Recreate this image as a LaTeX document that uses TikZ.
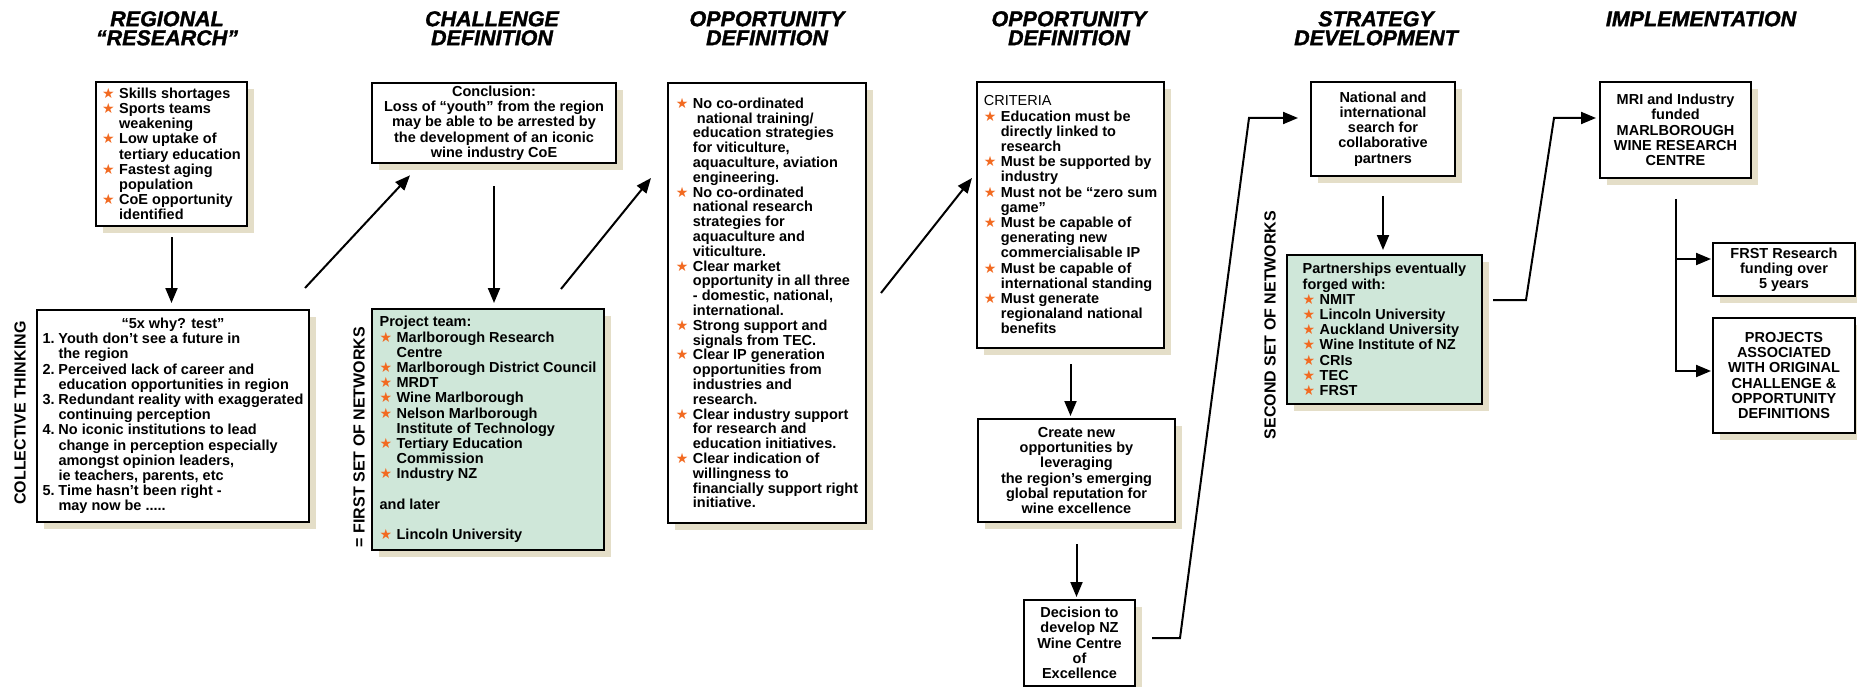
\documentclass[tikz,border=0pt]{standalone}
\usepackage{fontspec}
\setmainfont{Liberation Sans}
\newfontfamily\starfont{DejaVu Sans}
\newfontfamily\headfont{Liberation Sans Bold Italic}[FakeBold=1.4]
\usetikzlibrary{arrows.meta,shadows}

\definecolor{starorange}{HTML}{F26A21}
\definecolor{teamgreen}{HTML}{CFE7D9}
\definecolor{shadowbeige}{HTML}{E4DEC8}

\newcommand{\st}{\makebox[17pt][l]{\textcolor{starorange}{\starfont\fontsize{14}{14}\selectfont ★}}}
\newcommand{\ind}{\hspace*{17pt}}
\newcommand{\nm}[1]{\makebox[16pt][l]{#1}}

\tikzset{
	heading/.style={font=\headfont\fontsize{21.5}{19}\selectfont, align=center, inner sep=0pt, anchor=north},
	vlabel/.style={font=\fontsize{16}{16}\selectfont\bfseries, rotate=90, inner sep=0pt},
	box/.style={draw, line width=2pt, fill=white, anchor=north west, inner sep=3pt,
		font=\fontsize{14.5}{15.2}\selectfont\bfseries,
		general shadow={shadow xshift=7pt, shadow yshift=-7pt, fill=shadowbeige, draw=none}},
	greenbox/.style={box, fill=teamgreen},
	arr/.style={line width=2pt, -{Triangle[length=15pt,width=12pt]}}
}

\begin{document}
\begin{tikzpicture}[x=1pt,y=-1pt]
	\useasboundingbox (0,0) rectangle (1857,687);

	%%%%% headings %%%%%
	\node[heading] (h1) at (167,11) {REGIONAL\\“RESEARCH”};
	\node[heading] (h2) at (492,11) {CHALLENGE\\DEFINITION};
	\node[heading] (h3) at (767,11) {OPPORTUNITY\\DEFINITION};
	\node[heading] (h4) at (1069,11) {OPPORTUNITY\\DEFINITION};
	\node[heading] (h5) at (1376,11) {STRATEGY\\DEVELOPMENT};
	\node[heading] (h6) at (1701,11) {IMPLEMENTATION};

	\node[vlabel] (collective) at (20,413) {COLLECTIVE THINKING};
	\node[vlabel] (firstset) at (359,437) {= FIRST SET OF NETWORKS};
	\node[vlabel] (secondset) at (1270,325) {SECOND SET OF NETWORKS};

	%%%%% boxes %%%%%
	\node[box, align=left, minimum width=151pt, minimum height=144pt] (skills) at (95,81) {
		\st Skills shortages\\
		\st Sports teams\\
		\ind weakening\\
		\st Low uptake of\\
		\ind tertiary education\\
		\st Fastest aging\\
		\ind population\\
		\st CoE opportunity\\
		\ind identified};

	\node[box, align=center, minimum width=244pt, minimum height=80pt] (concl) at (371,82) {
		Conclusion:\\
		Loss of “youth” from the region\\
		may be able to be arrested by\\
		the development of an iconic\\
		wine industry CoE};

	\node[box, align=left, minimum width=272pt, minimum height=212pt] (why) at (36,309) {
		\makebox[261pt]{“5x why? test”}\\
		\nm{1.}Youth don’t see a future in\\
		\nm{}the region\\
		\nm{2.}Perceived lack of career and\\
		\nm{}education opportunities in region\\
		\nm{3.}Redundant reality with exaggerated\\
		\nm{}continuing perception\\
		\nm{4.}No iconic institutions to lead\\
		\nm{}change in perception especially\\
		\nm{}amongst opinion leaders,\\
		\nm{}ie teachers, parents, etc\\
		\nm{5.}Time hasn’t been right -\\
		\nm{}may now be .....};

	\node[greenbox, align=left, minimum width=232pt, minimum height=241pt] (team) at (371,308) {
		Project team:\\
		\st Marlborough Research\\
		\ind Centre\\
		\st Marlborough District Council\\
		\st MRDT\\
		\st Wine Marlborough\\
		\st Nelson Marlborough\\
		\ind Institute of Technology\\
		\st Tertiary Education\\
		\ind Commission\\
		\st Industry NZ\\
		\mbox{}\\
		and later\\
		\mbox{}\\
		\st Lincoln University};

	\node[box, align=left, minimum width=198pt, minimum height=440pt,
		font=\fontsize{14.5}{14.8}\selectfont\bfseries] (opp) at (667,82) {
		\st No co-ordinated\\
		\ind\ national training/\\
		\ind education strategies\\
		\ind for viticulture,\\
		\ind aquaculture, aviation\\
		\ind engineering.\\
		\st No co-ordinated\\
		\ind national research\\
		\ind strategies for\\
		\ind aquaculture and\\
		\ind viticulture.\\
		\st Clear market\\
		\ind opportunity in all three\\
		\ind - domestic, national,\\
		\ind international.\\
		\st Strong support and\\
		\ind signals from TEC.\\
		\st Clear IP generation\\
		\ind opportunities from\\
		\ind industries and\\
		\ind research.\\
		\st Clear industry support\\
		\ind for research and\\
		\ind education initiatives.\\
		\st Clear indication of\\
		\ind willingness to\\
		\ind financially support right\\
		\ind initiative.};

	\node[box, align=left, minimum width=187pt, minimum height=266pt] (crit) at (976,81) {
		{\mdseries CRITERIA}\\
		\st Education must be\\
		\ind directly linked to\\
		\ind research\\
		\st Must be supported by\\
		\ind industry\\
		\st Must not be “zero sum\\
		\ind game”\\
		\st Must be capable of\\
		\ind generating new\\
		\ind commercialisable IP\\
		\st Must be capable of\\
		\ind international standing\\
		\st Must generate\\
		\ind regionaland national\\
		\ind benefits};

	\node[box, align=center, minimum width=197pt, minimum height=103pt] (create) at (977,418) {
		Create new\\opportunities by\\leveraging\\the region’s emerging\\global reputation for\\wine excellence};

	\node[box, align=center, minimum width=111pt, minimum height=86pt] (decision) at (1023,599) {
		Decision to\\develop NZ\\Wine Centre\\of\\Excellence};

	\node[box, align=center, minimum width=144pt, minimum height=94pt] (natl) at (1310,81) {
		National and\\international\\search for\\collaborative\\partners};

	\node[greenbox, align=left, minimum width=195pt, minimum height=149pt] (partner) at (1286,254) {
		Partnerships eventually\\
		forged with:\\
		\st NMIT\\
		\st Lincoln University\\
		\st Auckland University\\
		\st Wine Institute of NZ\\
		\st CRIs\\
		\st TEC\\
		\st FRST};

	\node[box, align=center, minimum width=151pt, minimum height=96pt] (mri) at (1599,81) {
		MRI and Industry\\funded\\MARLBOROUGH\\WINE RESEARCH\\CENTRE};

	\node[box, align=center, minimum width=142pt, minimum height=53pt] (frst) at (1712,242) {
		FRST Research\\funding over\\5 years};

	\node[box, align=center, minimum width=142pt, minimum height=115pt] (proj) at (1712,317) {
		PROJECTS\\ASSOCIATED\\WITH ORIGINAL\\CHALLENGE \&\\OPPORTUNITY\\DEFINITIONS};

	%%%%% connectors %%%%%
	\coordinate (a1) at (skills.south |- why.north);
	\draw[arr] ([yshift=-10pt]skills.south) -- ([yshift=6pt]a1);
	\draw[arr] ([xshift=-5pt,yshift=21pt]why.north east) -- ([xshift=39pt,yshift=-11pt]concl.south west);
	\coordinate (a3) at (concl.south |- team.north);
	\draw[arr] ([yshift=-22pt]concl.south) -- ([yshift=5pt]a3);
	\draw[arr] ([xshift=-44pt,yshift=19pt]team.north east) -- ([xshift=-16pt,yshift=125pt]opp.west);
	\draw[arr] ([xshift=14pt,yshift=10pt]opp.east) -- ([xshift=-4pt,yshift=37pt]crit.west);
	\coordinate (a6) at (crit.south |- create.north);
	\draw[arr] ([yshift=-15pt]crit.south) -- ([yshift=2pt]a6);
	\coordinate (a7) at (create.south |- decision.north);
	\draw[arr] ([yshift=-21pt]create.south) -- ([yshift=2pt]a7);

	\coordinate (natlin) at ([xshift=-12pt,yshift=11pt]natl.west);
	\draw[arr] ([xshift=16pt,yshift=5pt]decision.east) -- ++(28,0) -- ([xshift=-49pt]natlin) -- (natlin);
	\coordinate (a9) at (natl.south |- partner.north);
	\draw[arr] ([yshift=-19pt]natl.south) -- ([yshift=4pt]a9);

	\coordinate (mriin) at ([xshift=-3pt,yshift=12pt]mri.west);
	\draw[arr] ([xshift=10pt,yshift=29.5pt]partner.east) -- ++(33,0) -- ([xshift=-42pt]mriin) -- (mriin);

	\coordinate (split) at ([yshift=-20pt]mri.south);
	\coordinate (frstin) at ([xshift=-1pt,yshift=10.5pt]frst.west);
	\coordinate (projin) at ([xshift=-1pt,yshift=4.5pt]proj.west);
	\draw[arr] (split) |- (projin);
	\draw[arr] (split |- frstin) -- (frstin);
\end{tikzpicture}
\end{document}
